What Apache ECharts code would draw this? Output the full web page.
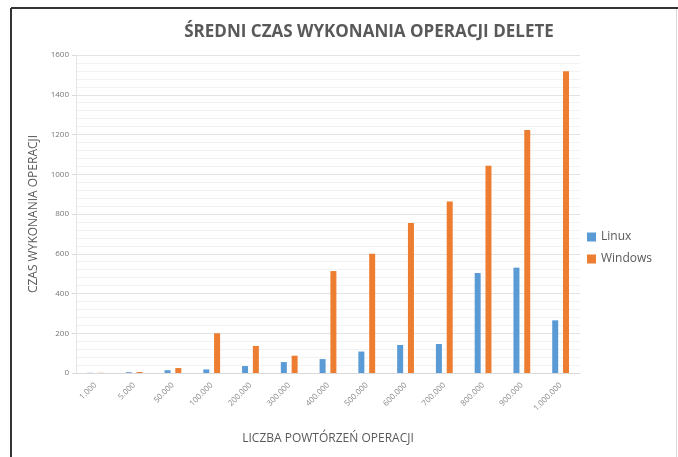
<!DOCTYPE html>
<html lang="pl">

<head>
    <meta charset="UTF-8">
    <script src="https://cdn.jsdelivr.net/npm/echarts@6/dist/echarts.min.js"></script>
    <title>Delete</title>
    <style>
        body { margin: 0; background: #fff; }
    </style>
</head>

<body>
    <div id="main" style="width: 678px;height: 457px;"></div>

    <script>
        var categories = ['1.000', '5.000', '50.000', '100.000', '200.000', '300.000', '400.000',
            '500.000', '600.000', '700.000', '800.000', '900.000', '1.000.000'];
        var linux = [1, 4, 14, 18, 35, 55, 70, 108, 141, 146, 503, 530, 265];
        var windows = [1, 5, 25, 200, 136, 87, 513, 600, 755, 863, 1043, 1223, 1518];
        var yTicks = [0, 200, 400, 600, 800, 1000, 1200, 1400, 1600];

        var myChart = echarts.init(document.getElementById('main'));
        var option = {
            animation: false,
            title: {
                text: 'ŚREDNI CZAS WYKONANIA OPERACJI DELETE',
                left: 364,
                textAlign: 'center',
                top: 19,
                textStyle: {
                    fontFamily: 'Open Sans',
                    fontSize: 17,
                    fontWeight: 'bold',
                    color: '#595959'
                }
            },
            legend: {
                orient: 'vertical',
                left: 582,
                top: 226,
                itemWidth: 9,
                itemHeight: 9,
                itemGap: 10,
                icon: 'rect',
                textStyle: { fontFamily: 'Open Sans', fontSize: 12, color: '#595959' },
                data: ['Linux', 'Windows']
            },
            grid: {
                left: 76,
                right: 98,
                top: 55,
                bottom: 84,
                outerBoundsMode: 'none'
            },
            xAxis: {
                type: 'category',
                data: categories,
                name: 'LICZBA POWTÓRZEŃ OPERACJI',
                nameLocation: 'middle',
                nameGap: 60,
                nameTextStyle: { fontFamily: 'Open Sans', fontSize: 12, color: '#595959' },
                axisLine: { lineStyle: { color: '#d9d9d9' } },
                axisTick: { show: false },
                axisLabel: {
                    rotate: 45,
                    interval: 0,
                    fontFamily: 'Open Sans',
                    fontSize: 8,
                    color: '#8c8c8c',
                    margin: 11
                }
            },
            yAxis: {
                type: 'value',
                min: yTicks[0],
                max: yTicks[yTicks.length - 1],
                interval: 200,
                name: 'CZAS WYKONANIA OPERACJI',
                nameLocation: 'middle',
                nameGap: 36,
                nameTextStyle: { fontFamily: 'Open Sans', fontSize: 12, color: '#595959' },
                axisLine: { show: true, lineStyle: { color: '#e6e6e6' } },
                axisTick: { show: true, length: 4, lineStyle: { color: '#d9d9d9' } },
                axisLabel: {
                    fontFamily: 'Open Sans',
                    fontSize: 8,
                    color: '#777',
                    margin: 7,
                    formatter: function (v) { return String(v); }
                },
                splitLine: { lineStyle: { color: '#e3e3e3' } },
                minorTick: { show: false, splitNumber: 5 },
                minorSplitLine: { show: true, lineStyle: { color: '#f2f2f2' } }
            },
            series: [
                {
                    name: 'Linux',
                    type: 'bar',
                    data: linux,
                    barWidth: 6,
                    barGap: '80%',
                    itemStyle: { color: '#5B9BD5' }
                },
                {
                    name: 'Windows',
                    type: 'bar',
                    data: windows,
                    barWidth: 6,
                    itemStyle: { color: '#ED7D31' }
                }
            ],
            graphic: [
                // frame around the picture
                { type: 'line', shape: { x1: 11, y1: 8, x2: 678, y2: 8 }, style: { stroke: '#333', lineWidth: 2 } },
                { type: 'line', shape: { x1: 11, y1: 8, x2: 11, y2: 457 }, style: { stroke: '#333', lineWidth: 2 } },
                { type: 'line', shape: { x1: 676.5, y1: 9, x2: 676.5, y2: 457 }, style: { stroke: '#d9d9d9', lineWidth: 1 } }
            ]
        };
        myChart.setOption(option);
    </script>
</body>

</html>
